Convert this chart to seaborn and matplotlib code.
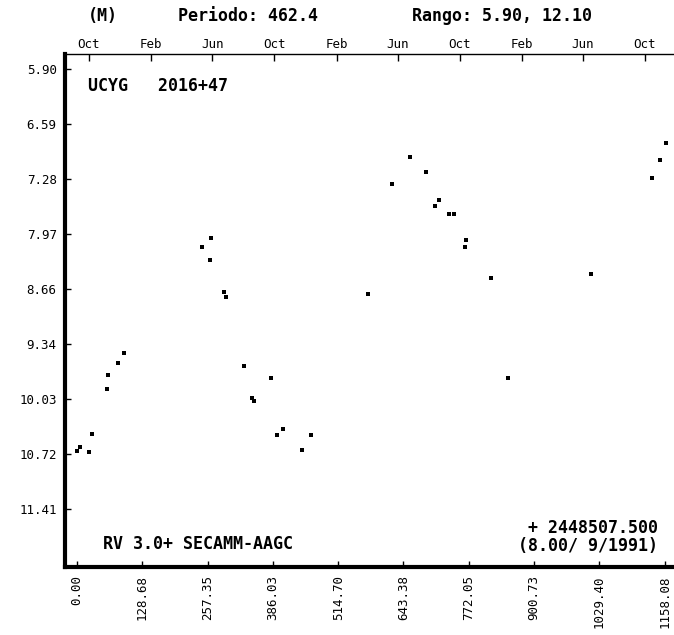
import matplotlib
matplotlib.use("Agg")
import matplotlib.pyplot as plt
import numpy as np
import pandas as pd
import seaborn as sns

sns.set_theme(style="white")
plt.rcParams["font.family"] = ["DejaVu Sans Mono", "DejaVu Sans"]
plt.rcParams["text.color"] = "black"
plt.rcParams["xtick.color"] = "black"
plt.rcParams["ytick.color"] = "black"
plt.rcParams["xtick.labelcolor"] = "black"
plt.rcParams["ytick.labelcolor"] = "black"

# days since JD 2448507.500 and magnitudes
days = [0.0, 5.9, 23.6, 29.6, 59.1, 61.1, 80.8, 92.6,
        246.3, 264.1, 262.1, 289.7, 293.6, 329.1, 344.9, 348.8,
        382.3, 394.1, 405.9, 443.4, 461.1, 573.4, 620.7, 656.2,
        687.7, 705.5, 713.4, 733.1, 742.9, 764.6, 766.6, 815.8,
        849.3, 1012.9, 1133.1, 1148.9, 1160.7]
mags = [10.68, 10.63, 10.70, 10.47, 9.91, 9.73, 9.58, 9.46,
        8.13, 8.02, 8.29, 8.69, 8.75, 9.62, 10.02, 10.06,
        9.77, 10.48, 10.41, 10.67, 10.48, 8.72, 7.34, 7.00,
        7.19, 7.62, 7.54, 7.72, 7.72, 8.13, 8.04, 8.52,
        9.77, 8.47, 7.26, 7.04, 6.83]

x_ticks = [0.00, 128.68, 257.35, 386.03, 514.70, 643.38, 772.05, 900.73, 1029.40, 1158.08]
y_ticks = [5.90, 6.59, 7.28, 7.97, 8.66, 9.34, 10.03, 10.72, 11.41]

start_date = pd.Timestamp("1991-09-08")
month_dates = ["1991-10-01", "1992-02-01", "1992-06-01", "1992-10-01", "1993-02-01",
               "1993-06-01", "1993-10-01", "1994-02-01", "1994-06-01", "1994-10-01"]
month_labels = ["Oct", "Feb", "Jun", "Oct", "Feb", "Jun", "Oct", "Feb", "Jun", "Oct"]

df = pd.DataFrame({"day": days, "mag": mags})

fig = plt.figure(figsize=(6.74, 6.35), dpi=100)
ax = fig.add_axes([65 / 674, 1 - 567 / 635, 1 - 65 / 674, (567 - 54) / 635])

sns.scatterplot(data=df, x="day", y="mag", ax=ax, marker="s", s=6,
                color="black", linewidth=0, legend=False)

ax.set_xlim(-23.6, 1176.5)
ax.set_ylim(12.136, 5.712)
ax.set_xlabel("")
ax.set_ylabel("")

ax.set_xticks(x_ticks)
ax.set_xticklabels([f"{v:.2f}" for v in x_ticks], rotation=90, fontsize=9)
ax.set_yticks(y_ticks)
ax.set_yticklabels([f"{v:.2f}" for v in y_ticks], fontsize=9)
ax.tick_params(axis="both", direction="in", length=4, width=1, color="black",
               bottom=True, left=True, pad=6)

for side in ["left", "bottom"]:
    ax.spines[side].set_linewidth(3)
    ax.spines[side].set_color("black")
ax.spines["top"].set_linewidth(1)
ax.spines["top"].set_color("black")
ax.spines["right"].set_visible(False)

# month ticks along the top
top = ax.secondary_xaxis("top")
month_days = [(pd.Timestamp(d) - start_date).days for d in month_dates]
top.set_xticks(month_days)
top.set_xticklabels(month_labels, fontsize=9)
top.tick_params(direction="in", length=5, width=1, pad=2)
top.spines["top"].set_visible(False)

mono = {"family": "DejaVu Sans Mono", "weight": "bold", "fontsize": 12, "color": "black"}
fig.text(88 / 674, 1 - 16 / 635, "(M)", ha="left", va="center", **mono)
fig.text(178 / 674, 1 - 16 / 635, "Periodo: 462.4", ha="left", va="center", **mono)
fig.text(412 / 674, 1 - 16 / 635, "Rango: 5.90, 12.10", ha="left", va="center", **mono)

ax.text(88 / 674, 1 - 86 / 635, "UCYG   2016+47", transform=fig.transFigure,
        ha="left", va="center", **mono)
ax.text(103 / 674, 1 - 544 / 635, "RV 3.0+ SECAMM-AAGC", transform=fig.transFigure,
        ha="left", va="center", **mono)
ax.text(658 / 674, 1 - 528 / 635, "+ 2448507.500", transform=fig.transFigure,
        ha="right", va="center", **mono)
ax.text(658 / 674, 1 - 546 / 635, "(8.00/ 9/1991)", transform=fig.transFigure,
        ha="right", va="center", **mono)

fig.savefig("out.png", dpi=100)
